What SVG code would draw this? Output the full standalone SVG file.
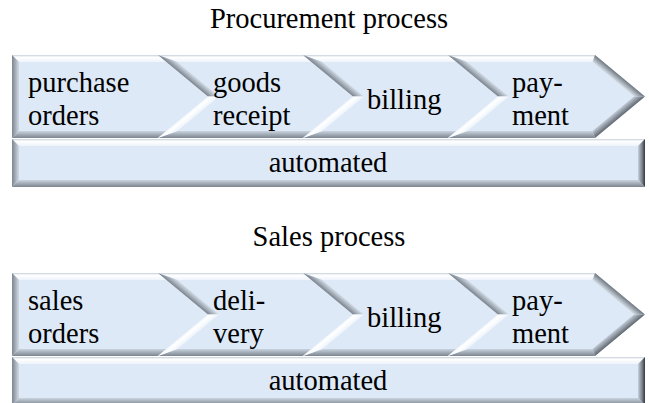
<svg xmlns="http://www.w3.org/2000/svg" width="649" height="403" viewBox="0 0 649 403">
  <style>
    .body{fill:#dde9f7}
    .ft{fill:url(#gTop)}
    .fbc{fill:url(#gBotChev)}
    .fbr{fill:url(#gBotBar)}
    .fl{fill:url(#gLeft)}
    .fr{fill:url(#gRight)}
    .fnu{fill:url(#gNotchUp)}
    .fnl{fill:url(#gNotchLow)}
    .fpu{fill:url(#gPtUp)}
    .fpl{fill:url(#gPtLow)}
  </style>
  <defs>
    <!-- bevel facet shading, in each shape's local coordinates -->
    <linearGradient id="gTop" gradientUnits="userSpaceOnUse" x1="0" y1="0" x2="0" y2="7">
      <stop offset="0" stop-color="#c6d0db"/>
      <stop offset="0.3" stop-color="#ffffff"/>
      <stop offset="1" stop-color="#eef4fb"/>
    </linearGradient>
    <linearGradient id="gBotChev" gradientUnits="userSpaceOnUse" x1="0" y1="83" x2="0" y2="76">
      <stop offset="0" stop-color="#7c858f"/>
      <stop offset="1" stop-color="#c9d4e0"/>
    </linearGradient>
    <linearGradient id="gBotBar" gradientUnits="userSpaceOnUse" x1="0" y1="48" x2="0" y2="41">
      <stop offset="0" stop-color="#7c858f"/>
      <stop offset="1" stop-color="#c9d4e0"/>
    </linearGradient>
    <linearGradient id="gLeft" gradientUnits="userSpaceOnUse" x1="0" y1="0" x2="7" y2="0">
      <stop offset="0" stop-color="#7d858e"/>
      <stop offset="1" stop-color="#d0dae5"/>
    </linearGradient>
    <linearGradient id="gRight" gradientUnits="userSpaceOnUse" x1="633" y1="0" x2="626" y2="0">
      <stop offset="0" stop-color="#33373c"/>
      <stop offset="0.35" stop-color="#6f767e"/>
      <stop offset="1" stop-color="#c7d2de"/>
    </linearGradient>
    <linearGradient id="gNotchUp" gradientUnits="userSpaceOnUse" x1="0" y1="0" x2="4.47" y2="-5.39">
      <stop offset="0" stop-color="#7a838d"/>
      <stop offset="1" stop-color="#d3dde8"/>
    </linearGradient>
    <linearGradient id="gNotchLow" gradientUnits="userSpaceOnUse" x1="0" y1="83" x2="4.47" y2="88.39">
      <stop offset="0" stop-color="#f4f8fc"/>
      <stop offset="0.3" stop-color="#ffffff"/>
      <stop offset="1" stop-color="#eef4fb"/>
    </linearGradient>
    <linearGradient id="gPtUp" gradientUnits="userSpaceOnUse" x1="147" y1="0" x2="142.53" y2="5.39">
      <stop offset="0" stop-color="#6f7780"/>
      <stop offset="1" stop-color="#d8e1ea"/>
    </linearGradient>
    <linearGradient id="gPtLow" gradientUnits="userSpaceOnUse" x1="147" y1="83" x2="142.53" y2="77.61">
      <stop offset="0" stop-color="#5f666e"/>
      <stop offset="1" stop-color="#c0cad6"/>
    </linearGradient>

    <!-- first step: flat left side, pointed right side -->
    <g id="chevFirst">
      <polygon class="body" points="0,0 146,0 196,41.5 146,83 0,83"/>
      <polygon class="ft" points="0,0 146,0 154.43,7 7,7"/>
      <polygon class="fbc" points="7,76 154.43,76 146,83 0,83"/>
      <polygon class="fl" points="0,0 7,7 7,76 0,83"/>
    </g>
    <!-- middle step: notched left side -->
    <g id="chevMid">
      <polygon class="body" points="0,0 145,0 195,41.5 145,83 0,83 50,41.5"/>
      <polygon class="ft" points="0,0 145,0 153.43,7 19.39,7"/>
      <polygon class="fbc" points="19.39,76 153.43,76 145,83 0,83"/>
      <polygon class="fnu" points="0,0 50,41.5 60.96,41.5 19.39,7"/>
      <polygon class="fnl" points="50,41.5 0,83 19.39,76 60.96,41.5"/>
    </g>
    <!-- last step: notched left side, bevelled point -->
    <g id="chevLast">
      <polygon class="body" points="0,0 147,0 197,41.5 147,83 0,83 50,41.5"/>
      <polygon class="ft" points="0,0 147,0 144.47,7 19.39,7"/>
      <polygon class="fbc" points="19.39,76 144.47,76 147,83 0,83"/>
      <polygon class="fnu" points="0,0 50,41.5 60.96,41.5 19.39,7"/>
      <polygon class="fnl" points="50,41.5 0,83 19.39,76 60.96,41.5"/>
      <polygon class="fpu" points="147,0 197,41.5 186.04,41.5 144.47,7"/>
      <polygon class="fpl" points="197,41.5 147,83 144.47,76 186.04,41.5"/>
    </g>
    <!-- full-width bar under the steps -->
    <g id="bar">
      <rect class="body" x="0" y="0" width="633" height="48"/>
      <polygon class="ft" points="0,0 633,0 626,7 7,7"/>
      <polygon class="fl" points="0,0 7,7 7,41 0,48"/>
      <polygon class="fbr" points="0,48 7,41 626,41 633,48"/>
      <polygon class="fr" points="633,0 633,48 626,41 626,7"/>
    </g>
  </defs>

  <g font-family="Liberation Serif, Times New Roman, DejaVu Serif, serif" font-size="28.5" fill="#000">
    <!-- Procurement process -->
    <text id="title-procurement" text-anchor="middle" x="329" y="28">Procurement process</text>
    <g id="p-purchase-orders" transform="translate(12,55)">
      <use href="#chevFirst"/>
      <text x="16" y="37">purchase</text>
      <text x="16" y="70">orders</text>
    </g>
    <g id="p-goods-receipt" transform="translate(158,55)">
      <use href="#chevMid"/>
      <text x="55" y="37">goods</text>
      <text x="55" y="70">receipt</text>
    </g>
    <g id="p-billing" transform="translate(303,55)">
      <use href="#chevMid"/>
      <text x="64" y="54">billing</text>
    </g>
    <g id="p-payment" transform="translate(448,55)">
      <use href="#chevLast"/>
      <text x="64" y="37">pay-</text>
      <text x="64" y="70">ment</text>
    </g>
    <g id="p-automated" transform="translate(12,139)">
      <use href="#bar"/>
      <text text-anchor="middle" x="316" y="33">automated</text>
    </g>

    <!-- Sales process -->
    <text id="title-sales" text-anchor="middle" x="329" y="246">Sales process</text>
    <g id="s-sales-orders" transform="translate(12,273)">
      <use href="#chevFirst"/>
      <text x="16" y="37">sales</text>
      <text x="16" y="70">orders</text>
    </g>
    <g id="s-delivery" transform="translate(158,273)">
      <use href="#chevMid"/>
      <text x="55" y="37">deli-</text>
      <text x="55" y="70">very</text>
    </g>
    <g id="s-billing" transform="translate(303,273)">
      <use href="#chevMid"/>
      <text x="64" y="54">billing</text>
    </g>
    <g id="s-payment" transform="translate(448,273)">
      <use href="#chevLast"/>
      <text x="64" y="37">pay-</text>
      <text x="64" y="70">ment</text>
    </g>
    <g id="s-automated" transform="translate(12,357)">
      <use href="#bar"/>
      <text text-anchor="middle" x="316" y="33">automated</text>
    </g>
  </g>
</svg>
